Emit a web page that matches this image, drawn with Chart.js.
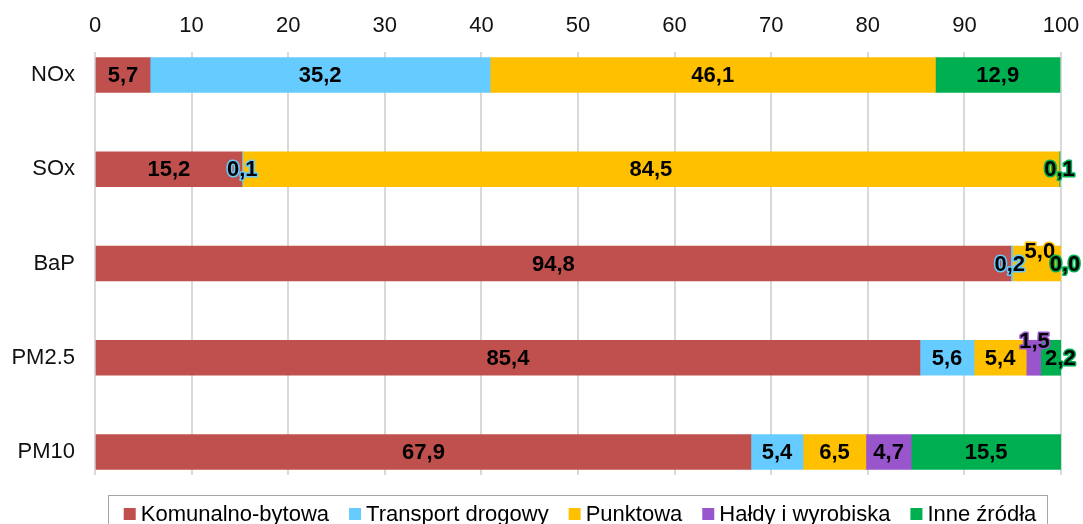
<!DOCTYPE html>
<html lang="pl">
<head>
<meta charset="utf-8">
<title>Emisje wg rodzaju źródła</title>
<script src="https://cdn.jsdelivr.net/npm/chart.js@4.4.1/dist/chart.umd.min.js"></script>
<style>
  html, body { margin: 0; padding: 0; background: #fff; }
  #wrap { position: relative; width: 1083px; height: 524px; }
</style>
</head>
<body>
<div id="wrap"><canvas id="chart"></canvas></div>
<script>
// dane
const categories = ["NOx", "SOx", "BaP", "PM2.5", "PM10"];
const seriesNames = ["Komunalno-bytowa", "Transport drogowy", "Punktowa", "Hałdy i wyrobiska", "Inne źródła"];
const komunalno = [5.7, 15.2, 94.8, 85.4, 67.9];
const transport = [35.2, 0.1, 0.2, 5.6, 5.4];
const punktowa = [46.1, 84.5, 5.0, 5.4, 6.5];
const haldy = [null, null, null, 1.5, 4.7];
const inne = [12.9, 0.1, 0.0, 2.2, 15.5];

const colors = ["#C0504D", "#66CCFF", "#FFC000", "#9955CC", "#00B050"];
const FONT = "'Liberation Sans', Arial, sans-serif";

// small nudges for the crowded labels, "dataset:index" -> [dx, dy]
const labelShift = {
  "1:2": [-2, 0],
  "2:2": [3, -13],
  "4:2": [4, 0],
  "3:3": [1, -17],
  "4:3": [9, 0]
};

const series = [komunalno, transport, punktowa, haldy, inne];
const datasets = series.map((vals, s) => ({
  label: seriesNames[s],
  data: vals.map((v, i) => ({ x: v, y: i })),
  backgroundColor: colors[s],
  borderWidth: 0,
  barThickness: 35
}));

const valueLabels = {
  id: "valueLabels",
  afterDatasetsDraw(chart) {
    const ctx = chart.ctx;
    ctx.save();
    ctx.font = "bold 22px " + FONT;
    ctx.textAlign = "center";
    ctx.textBaseline = "middle";
    ctx.lineJoin = "round";
    chart.data.datasets.forEach((ds, d) => {
      chart.getDatasetMeta(d).data.forEach((bar, i) => {
        const v = ds.data[i].x;
        if (v === null) return;
        const s = labelShift[d + ":" + i] || [0, 0];
        const x = (bar.x + bar.base) / 2 + s[0];
        const y = bar.y + 1 + s[1];
        const txt = v.toFixed(1).replace(".", ",");
        ctx.strokeStyle = ds.backgroundColor;
        ctx.lineWidth = 3;
        ctx.strokeText(txt, x, y);
        ctx.fillStyle = "#000";
        ctx.fillText(txt, x, y);
      });
    });
    ctx.restore();
  }
};

const boxLegend = {
  id: "boxLegend",
  afterDraw(chart) {
    const ctx = chart.ctx;
    ctx.save();
    ctx.strokeStyle = "#a6a6a6";
    ctx.lineWidth = 1;
    ctx.strokeRect(108.5, 495.5, 939, 60);
    ctx.font = "22px " + FONT;
    ctx.textBaseline = "middle";
    const box = 12, gap = 5, spacing = 20;
    const widths = chart.data.datasets.map(ds => ctx.measureText(ds.label).width);
    const total = widths.reduce((a, w) => a + box + gap + w, 0) + spacing * (widths.length - 1);
    let x = 580 - total / 2;
    chart.data.datasets.forEach((ds, i) => {
      ctx.fillStyle = ds.backgroundColor;
      ctx.fillRect(x, 508, box, box);
      ctx.fillStyle = "#000";
      ctx.fillText(ds.label, x + box + gap, 515);
      x += box + gap + widths[i] + spacing;
    });
    ctx.restore();
  }
};

new Chart(document.getElementById("chart"), {
  type: "bar",
  data: { datasets },
  plugins: [valueLabels, boxLegend],
  options: {
    indexAxis: "y",
    responsive: true,
    maintainAspectRatio: false,
    animation: false,
    layout: { padding: { top: 0, left: 0, right: 22, bottom: 49 } },
    plugins: {
      legend: { display: false },
      tooltip: { enabled: false }
    },
    scales: {
      x: {
        position: "top",
        stacked: true,
        min: 0,
        max: 100,
        afterFit(scale) {
          scale.height = 52;
          scale.paddingLeft = 0;
          scale.paddingRight = 0;
        },
        grid: { color: "#d9d9d9", lineWidth: 2, drawTicks: false },
        border: { display: false },
        ticks: {
          stepSize: 10,
          padding: 13,
          color: "#111",
          font: { size: 22, family: FONT }
        }
      },
      y: {
        type: "linear",
        stacked: true,
        reverse: true,
        offset: false,
        min: -0.244,
        max: 4.244,
        afterFit(scale) { scale.width = 95; },
        grid: { display: false, drawTicks: false, offset: false },
        border: { display: false },
        ticks: {
          stepSize: 1,
          includeBounds: false,
          autoSkip: false,
          padding: 20,
          color: "#111",
          font: { size: 22, family: FONT },
          callback: v => categories[v] ?? ""
        }
      }
    }
  }
});
</script>
</body>
</html>
